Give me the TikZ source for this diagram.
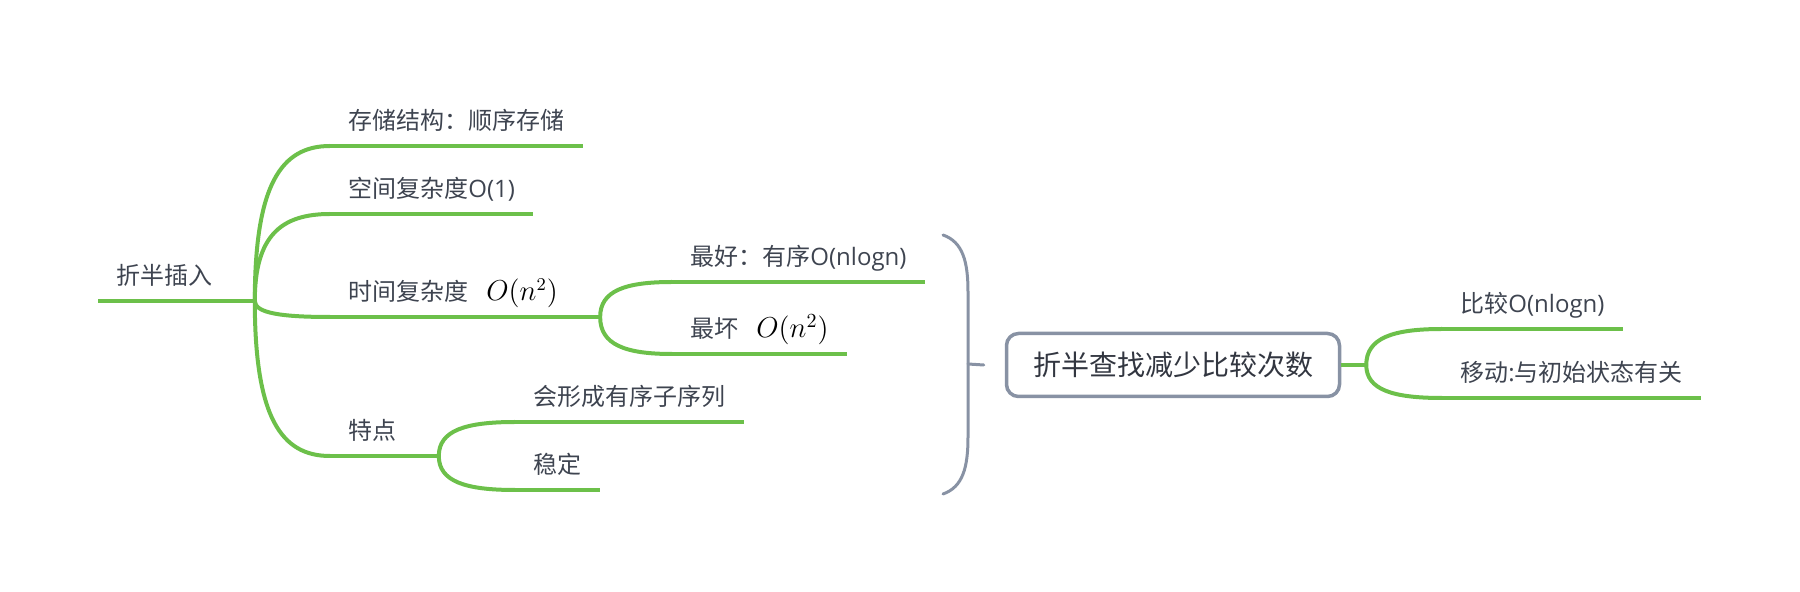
\documentclass[tikz,border=0pt]{standalone}
\usepackage[no-math]{fontspec}
\setmainfont{Open Sans}
\newfontfamily\cjk{Noto Sans CJK SC}
\usepackage{tikz}
\usetikzlibrary{calc}
\definecolor{leafgreen}{RGB}{108,192,74}
\definecolor{framegray}{RGB}{136,146,164}
\definecolor{inkgray}{RGB}{62,68,80}
\tikzset{
  topic/.style={anchor=south west, inner xsep=9pt, inner ysep=6pt, text height=10pt, text depth=2pt,
    text=inkgray, font=\fontsize{12pt}{14pt}\selectfont},
  under/.style={leafgreen, line width=2pt},
  branch/.style={under, to path={.. controls ($(\tikztostart)!0.75!(\tikztostart|-\tikztotarget)$)
    and ($(\tikztotarget)!0.65!(\tikztostart|-\tikztotarget)$) .. (\tikztotarget)}},
  centerbox/.style={draw=framegray, line width=1.75pt, rounded corners=6pt, minimum width=166.5pt,
    minimum height=31.5pt, text=inkgray!80!black, font=\fontsize{14pt}{16pt}\selectfont},
  bracket/.style={framegray, line width=1.5pt, line cap=round}
}
\newcommand{\bigOn}[1]{{\color{black}\fontsize{#1}{#1}\selectfont$O(n^2)$}}

\begin{document}
\begin{tikzpicture}[x=0.5pt,y=-0.5pt]
  \useasboundingbox (0,0) rectangle (1800,592);

  % left side
  \node[topic] (root) at (98,301) {\cjk 折半插入};
  \coordinate (rootj) at ([xshift=12pt]root.south east);
  \node[topic] (store) at (330,146) {\cjk 存储结构：顺序存储};
  \node[topic] (space) at (330,214) {{\cjk 空间复杂度}O(1)};
  \node[topic] (time) at (330,317) {{\cjk 时间复杂度}\hspace{9pt}\bigOn{13.5pt}};
  \coordinate (timej) at ([xshift=12pt]time.south east);
  \node[topic] (trait) at (330,456) {\cjk 特点};
  \coordinate (traitj) at ([xshift=12pt]trait.south east);
  \node[topic] (best) at (672,282) {{\cjk 最好：有序}O(nlogn)};
  \node[topic] (worst) at (672,354) {{\cjk 最坏}\hspace{9pt}\bigOn{14.5pt}};
  \node[topic] (order) at (515,422) {\cjk 会形成有序子序列};
  \node[topic] (stable) at (515,490) {\cjk 稳定};

  \draw[under] (root.south west) -- (rootj);
  \draw[under] (time.south west) -- (timej);
  \draw[under] (trait.south west) -- (traitj);
  \foreach \leaf in {store,space,best,worst,order,stable}
    \draw[under] (\leaf.south west) -- (\leaf.south east);
  \foreach \kid in {store,space,time,trait}
    \draw[branch] (rootj) to (\kid.south west);
  \draw[branch] (timej) to (best.south west);
  \draw[branch] (timej) to (worst.south west);
  \draw[branch] (traitj) to (order.south west);
  \draw[branch] (traitj) to (stable.south west);

  % bracket and summary
  \node[centerbox] (box) at (1173,365) {\cjk 折半查找减少比较次数};
  \coordinate (brtop) at (943,235);
  \coordinate (brbot) at (943,494);
  \coordinate (brmid) at (968,364);
  \coordinate (tickend) at ([xshift=-10.5pt]box.west);
  \draw[bracket] (brtop) .. controls (963,242) and (968,262) .. (968,292) -- (968,437)
    .. controls (968,467) and (963,487) .. (brbot);
  \draw[bracket] (brmid) -- (tickend);

  % right side
  \coordinate (boxj) at ([xshift=12.5pt]box.east);
  \node[topic] (compare) at (1442,329) {{\cjk 比较}O(nlogn)};
  \node[topic] (move) at (1442,398) {{\cjk 移动}:{\cjk 与初始状态有关}};
  \draw[under] (box.east) -- (boxj);
  \foreach \leaf in {compare,move} {
    \draw[under] (\leaf.south west) -- (\leaf.south east);
    \draw[branch] (boxj) to (\leaf.south west);
  }
\end{tikzpicture}
\end{document}
